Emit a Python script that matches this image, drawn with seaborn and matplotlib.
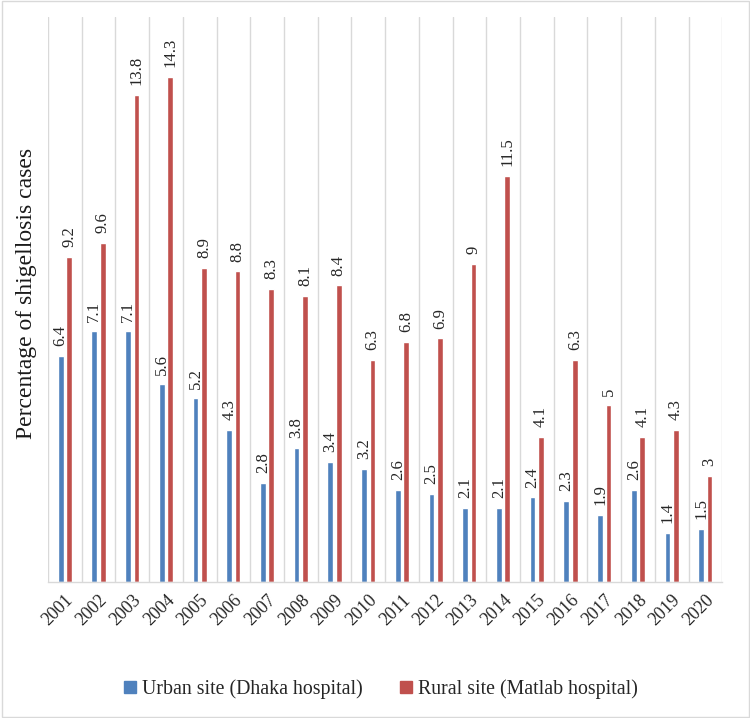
import matplotlib
matplotlib.use("Agg")
import matplotlib.pyplot as plt
import seaborn as sns
import pandas as pd
from matplotlib.patches import Rectangle

years = [str(y) for y in range(2001, 2021)]
urban = [6.4, 7.1, 7.1, 5.6, 5.2, 4.3, 2.8, 3.8, 3.4, 3.2, 2.6, 2.5, 2.1, 2.1, 2.4, 2.3, 1.9, 2.6, 1.4, 1.5]
rural = [9.2, 9.6, 13.8, 14.3, 8.9, 8.8, 8.3, 8.1, 8.4, 6.3, 6.8, 6.9, 9, 11.5, 4.1, 6.3, 5, 4.1, 4.3, 3]
urban_labels = ["6.4", "7.1", "7.1", "5.6", "5.2", "4.3", "2.8", "3.8", "3.4", "3.2", "2.6", "2.5", "2.1", "2.1", "2.4", "2.3", "1.9", "2.6", "1.4", "1.5"]
rural_labels = ["9.2", "9.6", "13.8", "14.3", "8.9", "8.8", "8.3", "8.1", "8.4", "6.3", "6.8", "6.9", "9", "11.5", "4.1", "6.3", "5", "4.1", "4.3", "3"]
series = ["Urban site (Dhaka hospital)", "Rural site (Matlab hospital)"]

df = pd.DataFrame({
    "Year": years * 2,
    "Value": urban + rural,
    "Site": [series[0]] * len(years) + [series[1]] * len(years),
})

sns.set_theme(style="white")
plt.rcParams["font.family"] = ["Liberation Serif", "DejaVu Serif"]

fig = plt.figure(figsize=(7.5, 7.18), dpi=100)
ax = fig.add_axes([0.064, 0.1894, 0.899, 0.787])

colors = ["#4F81BD", "#C0504D"]
sns.barplot(data=df, x="Year", y="Value", hue="Site", order=years, hue_order=series,
            palette=colors, width=0.5, gap=0.32, ax=ax, legend=True, saturation=1)

ax.set_ylim(0, 16)
ax.set_xlim(-0.5, len(years) - 0.5)
ax.set_yticks([])
ax.set_xlabel("")
ax.set_ylabel("Percentage of shigellosis cases", fontsize=17,
              family=["Liberation Serif", "DejaVu Serif"], color="#1a1a1a")
ax.yaxis.set_label_coords(-0.016, 0.511)

for i in range(len(years) + 1):
    ax.axvline(i - 0.5, color="#D9D9D9", lw=1, zorder=0)

for s in ["top", "right", "left"]:
    ax.spines[s].set_visible(False)
ax.spines["bottom"].set_color("#D9D9D9")
ax.spines["bottom"].set_linewidth(1)

for cont, labs in zip(ax.containers, [urban_labels, rural_labels]):
    ax.bar_label(cont, labels=labs, rotation=90, padding=7, fontsize=12,
                 color="#262626", family=["Liberation Serif", "DejaVu Serif"])

ax.tick_params(axis="x", length=0, pad=7)
for t in ax.get_xticklabels():
    t.set_rotation(45)
    t.set_ha("right")
    t.set_rotation_mode("anchor")
    t.set_fontsize(13)
    t.set_color("#262626")
    t.set_family(["Liberation Serif", "DejaVu Serif"])

ax.legend_.remove()
handles = [Rectangle((0, 0), 1, 1, color=c) for c in colors]
fig.legend(handles, series, loc="center", bbox_to_anchor=(0.508, 0.04), ncol=2, frameon=False,
           prop={"family": ["Liberation Serif"], "size": 14.3},
           handlelength=0.6, handleheight=0.6, handletextpad=0.3, columnspacing=1.9)

border = Rectangle((0.002, 0.002), 0.996, 0.996, transform=fig.transFigure, fill=False,
                   edgecolor="#D9D9D9", lw=1)
fig.patches.append(border)

fig.savefig("out.png", dpi=100)
